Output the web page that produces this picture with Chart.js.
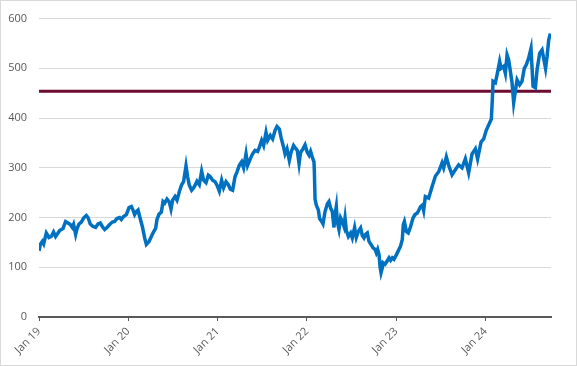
<!DOCTYPE html>
<html>
<head>
<meta charset="utf-8">
<script src="https://cdn.jsdelivr.net/npm/chart.js@4/dist/chart.umd.min.js"></script>
<style>
  html, body { margin: 0; padding: 0; background: #fff; }
  #wrap { width: 577px; height: 366px; }
</style>
</head>
<body>
<div id="wrap"><canvas id="chart" width="577" height="366"></canvas></div>
<script>
// dates as decimal years
const years = [
  2019.000, 2019.015, 2019.037, 2019.052, 2019.082, 2019.112, 2019.138, 2019.163, 2019.186, 2019.213,
  2019.231, 2019.269, 2019.298, 2019.325, 2019.350, 2019.373, 2019.387, 2019.410, 2019.426, 2019.448,
  2019.474, 2019.499, 2019.530, 2019.549, 2019.574, 2019.605, 2019.634, 2019.661, 2019.686, 2019.709,
  2019.735, 2019.761, 2019.791, 2019.821, 2019.847, 2019.873, 2019.903, 2019.922, 2019.947, 2019.978,
  2020.008, 2020.034, 2020.053, 2020.071, 2020.090, 2020.109, 2020.127, 2020.157, 2020.183, 2020.202,
  2020.232, 2020.258, 2020.283, 2020.306, 2020.321, 2020.344, 2020.370, 2020.389, 2020.407, 2020.433,
  2020.459, 2020.478, 2020.496, 2020.523, 2020.545, 2020.571, 2020.597, 2020.619, 2020.646, 2020.664,
  2020.683, 2020.709, 2020.739, 2020.769, 2020.795, 2020.821, 2020.843, 2020.870, 2020.896, 2020.918,
  2020.944, 2020.971, 2020.993,
  2021.019, 2021.045, 2021.067, 2021.094, 2021.120, 2021.142, 2021.168, 2021.195, 2021.217, 2021.243,
  2021.269, 2021.291, 2021.318, 2021.336, 2021.366, 2021.392, 2021.419, 2021.448, 2021.467, 2021.493,
  2021.515, 2021.542, 2021.560, 2021.590, 2021.616, 2021.643, 2021.665, 2021.691, 2021.710, 2021.739,
  2021.755, 2021.777, 2021.803, 2021.822, 2021.851, 2021.878, 2021.892, 2021.912, 2021.929, 2021.956,
  2021.979,
  2022.004, 2022.024, 2022.041, 2022.061, 2022.079, 2022.083, 2022.091, 2022.105, 2022.128, 2022.142,
  2022.165, 2022.180, 2022.203, 2022.228, 2022.247, 2022.265, 2022.284, 2022.303, 2022.315, 2022.329,
  2022.340, 2022.359, 2022.377, 2022.396, 2022.415, 2022.427, 2022.441, 2022.464, 2022.489, 2022.508,
  2022.534, 2022.553, 2022.576, 2022.601, 2022.620, 2022.639, 2022.657, 2022.676, 2022.695, 2022.718,
  2022.740, 2022.763, 2022.777, 2022.792, 2022.807, 2022.819, 2022.830, 2022.845, 2022.853, 2022.875,
  2022.900, 2022.919, 2022.937, 2022.956, 2022.975,
  2023.001, 2023.023, 2023.049, 2023.068, 2023.079, 2023.091, 2023.113, 2023.135, 2023.161, 2023.188,
  2023.211, 2023.236, 2023.254, 2023.273, 2023.292, 2023.307, 2023.326, 2023.363, 2023.401, 2023.438,
  2023.475, 2023.513, 2023.531, 2023.561, 2023.587, 2023.625, 2023.662, 2023.699, 2023.737, 2023.774,
  2023.811, 2023.849, 2023.886, 2023.911, 2023.950, 2023.979,
  2024.009, 2024.035, 2024.065, 2024.076, 2024.084, 2024.110, 2024.129, 2024.158, 2024.174, 2024.203,
  2024.222, 2024.241, 2024.259, 2024.278, 2024.297, 2024.315, 2024.334, 2024.353, 2024.382, 2024.408,
  2024.434, 2024.456, 2024.482, 2024.509, 2024.532, 2024.558, 2024.577, 2024.606, 2024.633, 2024.651,
  2024.672, 2024.689, 2024.707, 2024.726
];

const prices = [
  133, 146, 152, 147, 169, 160, 162, 171, 162, 169,
  174, 178, 192, 189, 186, 180, 186, 166, 178, 187,
  191, 199, 204, 200, 187, 182, 180, 187, 189, 182,
  176, 180, 186, 191, 192, 198, 200, 196, 202, 206,
  220, 222, 215, 206, 212, 215, 202, 182, 159, 146,
  152, 162, 171, 178, 196, 207, 211, 232, 229, 237,
  231, 217, 235, 242, 235, 252, 266, 272, 304, 282,
  265, 255, 262, 273, 266, 293, 275, 270, 285, 282,
  275, 272, 265,
  253, 275, 260, 272, 266, 257, 255, 282, 292, 305,
  312, 300, 328, 305, 318, 328, 335, 333, 341, 355,
  345, 371, 355, 365, 358, 375, 383, 378, 361, 341,
  328, 338, 315, 331, 345, 338, 335, 308, 331, 338,
  346,
  331, 325, 333, 321, 312, 295, 237, 225, 215, 198,
  192, 187, 212, 227, 232, 219, 212, 180, 206, 222,
  192, 176, 199, 192, 182, 199, 174, 162, 169, 159,
  180, 160, 172, 179, 164, 159, 166, 169, 152, 146,
  139, 136, 129, 136, 126, 101, 89, 99, 109, 106,
  113, 119, 114, 119, 116,
  125, 133, 143, 156, 186, 192, 172, 169, 182, 199,
  206, 209, 215, 222, 225, 214, 242, 239, 262, 283,
  292, 310, 300, 322, 305, 286, 296, 306, 300, 318,
  290, 328, 338, 318, 352, 358,
  376, 386, 398, 437, 474, 471, 487, 514, 500, 504,
  490, 527, 517, 494, 471, 431, 454, 477, 467, 474,
  500, 507, 520, 540, 464, 461, 497, 530, 537, 520,
  500, 524, 557, 570
];

const thresholdValue = 454;
const tickYears = [2019, 2020, 2021, 2022, 2023, 2024];
const tickLabels = ['Jan 19', 'Jan 20', 'Jan 21', 'Jan 22', 'Jan 23', 'Jan 24'];
const xMin = 2019;
const xMax = 2024.733;

const points = years.map((yr, i) => ({ x: yr, y: prices[i] }));
const thresholdLine = [{ x: xMin, y: thresholdValue }, { x: xMax, y: thresholdValue }];

const frame = {
  id: 'frame',
  afterDraw(chart) {
    const c = chart.ctx;
    c.save();
    c.strokeStyle = '#d9d9d9';
    c.lineWidth = 1;
    c.strokeRect(0.5, 0.5, chart.width - 1, chart.height - 1);
    c.restore();
  }
};

const textFont = { family: "'Open Sans', 'Liberation Sans', sans-serif", size: 11 };

new Chart(document.getElementById('chart'), {
  type: 'line',
  data: {
    datasets: [
      {
        data: points,
        borderColor: '#0070c0',
        borderWidth: 3.5,
        pointRadius: 0,
        tension: 0,
        fill: false
      },
      {
        data: thresholdLine,
        borderColor: '#6d0b30',
        borderWidth: 3,
        pointRadius: 0,
        fill: false
      }
    ]
  },
  options: {
    responsive: false,
    animation: false,
    events: [],
    layout: { padding: { left: 0, right: 26, top: 14, bottom: 0 } },
    plugins: { legend: { display: false }, tooltip: { enabled: false } },
    scales: {
      x: {
        type: 'linear',
        min: xMin,
        max: xMax,
        afterBuildTicks: scale => { scale.ticks = tickYears.map(v => ({ value: v })); },
        afterFit: scale => { scale.height = 49; },
        grid: { drawOnChartArea: false, drawTicks: true, tickLength: 4, color: '#595959', lineWidth: 1 },
        border: { display: true, color: '#595959', width: 2 },
        ticks: {
          autoSkip: false,
          minRotation: 45,
          maxRotation: 45,
          padding: 4,
          color: '#595959',
          font: textFont,
          callback: (v, i) => tickLabels[i]
        }
      },
      y: {
        min: 0,
        max: 600,
        afterFit: scale => { scale.width = 39; },
        grid: { color: '#d9d9d9', lineWidth: 1, drawTicks: false },
        border: { display: false },
        ticks: { stepSize: 100, padding: 12, color: '#595959', font: textFont }
      }
    }
  },
  plugins: [frame]
});
</script>
</body>
</html>
